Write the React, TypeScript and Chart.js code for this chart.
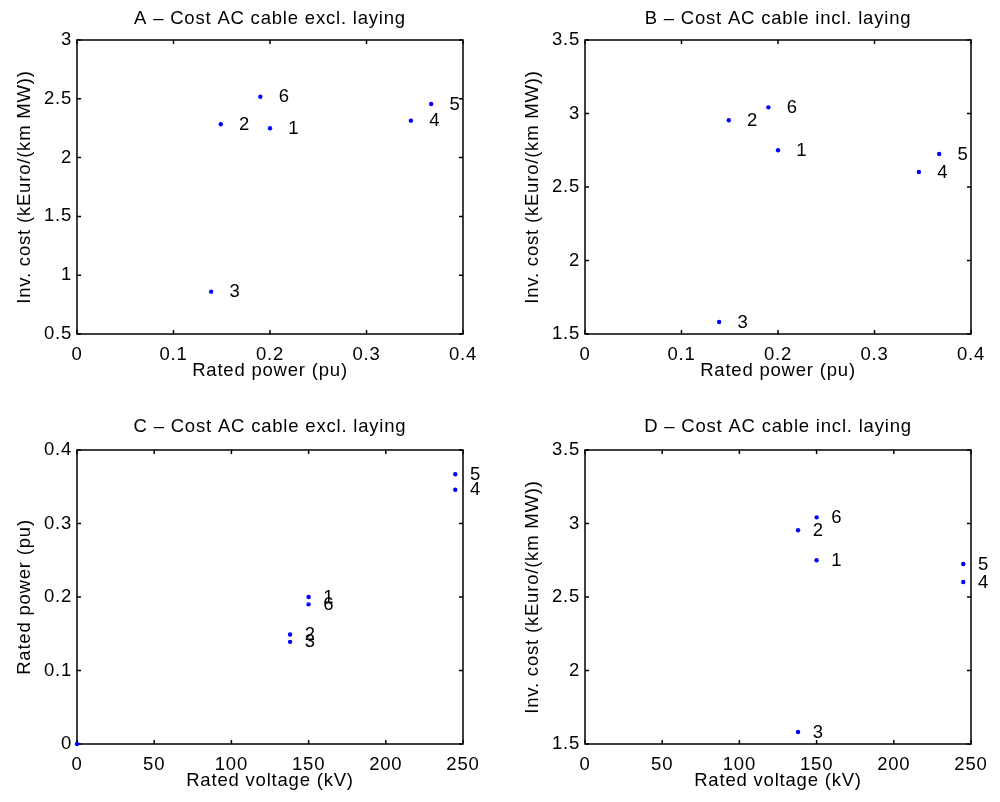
import React, { useEffect, useRef } from 'react';
import { Chart, registerables } from 'chart.js';

Chart.register(...registerables);

// ---------- data ----------
const caseLabels = ['1', '2', '3', '4', '5', '6'];
const ratedPowerPu = [0.2, 0.149, 0.139, 0.346, 0.367, 0.19];
const ratedVoltageKv = [150, 138, 138, 245, 245, 150];
const invCostExclLaying = [2.25, 2.283, 0.86, 2.314, 2.456, 2.518];
const invCostInclLaying = [2.75, 2.954, 1.582, 2.602, 2.725, 3.042];
const originVoltage = [0];
const originPower = [0];

const powerTicks = [0, 0.1, 0.2, 0.3, 0.4];
const voltageTicks = [0, 50, 100, 150, 200, 250];
const costExclTicks = [0.5, 1, 1.5, 2, 2.5, 3];
const costInclTicks = [1.5, 2, 2.5, 3, 3.5];

const panelTitles = [
  'A \u2013 Cost AC cable excl. laying',
  'B \u2013 Cost AC cable incl. laying',
  'C \u2013 Cost AC cable excl. laying',
  'D \u2013 Cost AC cable incl. laying',
];
const axisTitlePower = 'Rated power (pu)';
const axisTitleVoltage = 'Rated voltage (kV)';
const axisTitleCost = 'Inv. cost (kEuro/(km MW))';

// ---------- style ----------
const FONT_FAMILY = '"Liberation Sans", Arial, Helvetica, sans-serif';
const FONT_SIZE = 18.5;
const LETTER_SPACING = '0.8px';
const TICK_LEN = 4;
const AXIS_LW = 1.5;

type PanelCfg = {
  left: number;
  top: number;
  title: string;
  xs: number[];
  ys: number[];
  extraXs?: number[];
  extraYs?: number[];
  xTicks: number[];
  yTicks: number[];
  xTitle: string;
  yTitle: string;
  labelDx: number;
  padding: { left: number; right: number; top: number; bottom: number };
  titlePadBottom: number;
};

const W = 500;
const H = 401;

const panels: PanelCfg[] = [
  {
    left: 0, top: 0, title: panelTitles[0],
    xs: ratedPowerPu, ys: invCostExclLaying,
    xTicks: powerTicks, yTicks: costExclTicks,
    xTitle: axisTitlePower, yTitle: axisTitleCost, labelDx: 0.019,
    padding: { left: 12, right: 37, top: 8, bottom: 12 }, titlePadBottom: 9.8,
  },
  {
    left: 500, top: 0, title: panelTitles[1],
    xs: ratedPowerPu, ys: invCostInclLaying,
    xTicks: powerTicks, yTicks: costInclTicks,
    xTitle: axisTitlePower, yTitle: axisTitleCost, labelDx: 0.019,
    padding: { left: 20, right: 29, top: 8, bottom: 12 }, titlePadBottom: 9.8,
  },
  {
    left: 0, top: 401, title: panelTitles[2],
    xs: ratedVoltageKv, ys: ratedPowerPu,
    extraXs: originVoltage, extraYs: originPower,
    xTicks: voltageTicks, yTicks: powerTicks,
    xTitle: axisTitleVoltage, yTitle: axisTitlePower, labelDx: 9.5,
    padding: { left: 12, right: 37, top: 15.2, bottom: 3 }, titlePadBottom: 11.6,
  },
  {
    left: 500, top: 401, title: panelTitles[3],
    xs: ratedVoltageKv, ys: invCostInclLaying,
    xTicks: voltageTicks, yTicks: costInclTicks,
    xTitle: axisTitleVoltage, yTitle: axisTitleCost, labelDx: 9.5,
    padding: { left: 20, right: 29, top: 15.2, bottom: 3 }, titlePadBottom: 11.6,
  },
];

function makeBoxPlugin(p: PanelCfg) {
  return {
    id: 'matlabBox',
    beforeDraw(chart: any) {
      try { chart.ctx.letterSpacing = LETTER_SPACING; } catch (e) { /* ignore */ }
    },
    beforeDatasetsDraw(chart: any) {
      const { ctx, chartArea } = chart;
      const { left, right, top, bottom } = chartArea;
      const xs = chart.scales.x;
      const ys = chart.scales.y;
      ctx.save();
      ctx.strokeStyle = '#000';
      ctx.lineWidth = AXIS_LW;
      ctx.beginPath();
      ctx.rect(left, top, right - left, bottom - top);
      ctx.stroke();
      ctx.beginPath();
      xs.ticks.forEach((t: any) => {
        const px = xs.getPixelForValue(t.value);
        ctx.moveTo(px, bottom);
        ctx.lineTo(px, bottom - TICK_LEN);
        ctx.moveTo(px, top);
        ctx.lineTo(px, top + TICK_LEN);
      });
      ys.ticks.forEach((t: any) => {
        const py = ys.getPixelForValue(t.value);
        ctx.moveTo(left, py);
        ctx.lineTo(left + TICK_LEN, py);
        ctx.moveTo(right, py);
        ctx.lineTo(right - TICK_LEN, py);
      });
      ctx.stroke();
      ctx.restore();
    },
    afterDatasetsDraw(chart: any) {
      const { ctx } = chart;
      const xs = chart.scales.x;
      const ys = chart.scales.y;
      ctx.save();
      ctx.fillStyle = '#000';
      ctx.font = `${FONT_SIZE}px ${FONT_FAMILY}`;
      ctx.textAlign = 'left';
      ctx.textBaseline = 'middle';
      p.xs.forEach((xv, i) => {
        const px = xs.getPixelForValue(xv + p.labelDx);
        const py = ys.getPixelForValue(p.ys[i]);
        ctx.fillText(caseLabels[i], px, py + 0.5);
      });
      ctx.restore();
    },
  };
}

function buildChart(canvas: HTMLCanvasElement, p: PanelCfg) {
  const font = { family: FONT_FAMILY, size: FONT_SIZE, weight: 'normal' as const, lineHeight: 1.2 };
  const pointStyle = {
    backgroundColor: '#0000ff',
    borderColor: '#0000ff',
    borderWidth: 0,
    pointRadius: 2.2,
    pointHoverRadius: 2.2,
    clip: false as const,
  };
  const datasets: any[] = [
    { data: p.xs.map((x, i) => ({ x, y: p.ys[i] })), ...pointStyle },
  ];
  if (p.extraXs && p.extraYs) {
    const ey = p.extraYs;
    datasets.push({ data: p.extraXs.map((x, i) => ({ x, y: ey[i] })), ...pointStyle });
  }
  const xT = p.xTicks;
  const yT = p.yTicks;
  return new Chart(canvas, {
    type: 'scatter',
    data: { datasets },
    options: {
      responsive: false,
      maintainAspectRatio: false,
      animation: false,
      events: [],
      layout: { padding: p.padding },
      plugins: {
        legend: { display: false },
        tooltip: { enabled: false },
        title: {
          display: true,
          text: p.title,
          fullSize: false,
          color: '#000',
          font,
          padding: { top: 0, bottom: p.titlePadBottom },
        },
      },
      scales: {
        x: {
          type: 'linear',
          position: 'bottom',
          min: xT[0],
          max: xT[xT.length - 1],
          grid: { display: false, drawTicks: false },
          border: { display: false },
          ticks: {
            color: '#000',
            font,
            padding: 9.5,
            maxRotation: 0,
            autoSkip: false,
            callback: (v: any) => String(v),
          },
          title: {
            display: true,
            text: p.xTitle,
            color: '#000',
            font,
            padding: { top: 0, bottom: 7 },
          },
          afterBuildTicks: (s: any) => { s.ticks = xT.map((value) => ({ value })); },
          afterFit: (s: any) => { s.height = 55; },
        },
        y: {
          type: 'linear',
          position: 'left',
          min: yT[0],
          max: yT[yT.length - 1],
          grid: { display: false, drawTicks: false },
          border: { display: false },
          ticks: {
            color: '#000',
            font,
            padding: 5,
            autoSkip: false,
            callback: (v: any) => String(v),
          },
          title: {
            display: true,
            text: p.yTitle,
            color: '#000',
            font,
            padding: { top: 2.2, bottom: 0 },
          },
          afterBuildTicks: (s: any) => { s.ticks = yT.map((value) => ({ value })); },
          afterFit: (s: any) => { s.width = 65; },
        },
      },
    } as any,
    plugins: [makeBoxPlugin(p) as any],
  });
}

function Panel({ cfg }: { cfg: PanelCfg }) {
  const ref = useRef<HTMLCanvasElement | null>(null);
  useEffect(() => {
    if (!ref.current) return;
    const chart = buildChart(ref.current, cfg);
    return () => chart.destroy();
  }, [cfg]);
  return (
    <canvas
      ref={ref}
      width={W}
      height={H}
      style={{ position: 'absolute', left: cfg.left, top: cfg.top, width: W, height: H }}
    />
  );
}

export default function App() {
  return (
    <div
      style={{
        position: 'absolute',
        left: 0,
        top: 0,
        width: 1000,
        height: 802,
        background: '#ffffff',
        overflow: 'hidden',
      }}
    >
      {panels.map((p, i) => (
        <Panel key={i} cfg={p} />
      ))}
    </div>
  );
}
